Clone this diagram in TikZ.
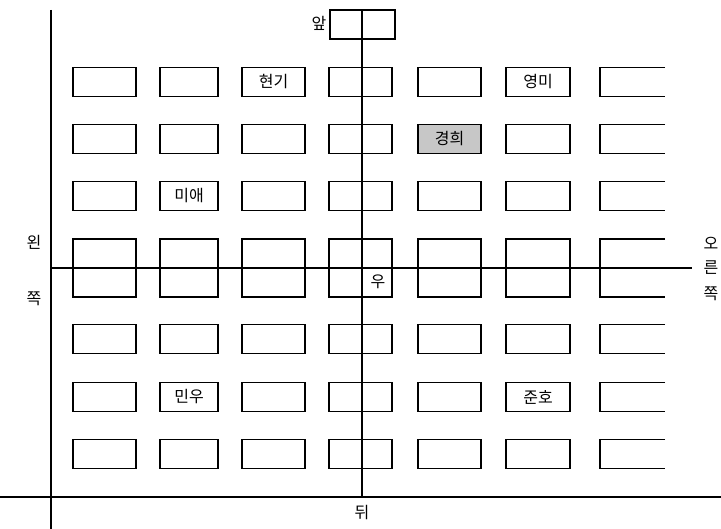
\documentclass[tikz,border=0pt]{standalone}
\usepackage{fontspec}
\newfontfamily\kr{Noto Sans CJK KR}
\begin{document}
\begin{tikzpicture}[x=1pt,y=-1pt,
  seat/.style={draw,line width=1.1pt,minimum width=63pt,minimum height=29pt,inner sep=0pt,font=\kr\fontsize{16}{16}\selectfont},
  tallseat/.style={seat,minimum height=58pt},
  lab/.style={font=\kr\fontsize{16}{16}\selectfont,inner sep=0pt},
  axis/.style={line width=2.8pt},
  midline/.style={line width=1.3pt}]
\useasboundingbox (0,0) rectangle (721,529);
\foreach \r/\y in {1/82,2/139,3/196,6/339,7/397,8/454}{
  \node[seat] (a\r) at (104.5,\y) {};
  \node[seat,minimum width=58pt] (b\r) at (189,\y) {};
  \node[seat] (c\r) at (273.5,\y) {};
  \node[seat] (d\r) at (360.5,\y) {};
  \node[seat] (e\r) at (449.5,\y) {};
  \node[seat,minimum width=64pt] (f\r) at (538,\y) {};
  \draw[line width=1.1pt] (665,\y-14.5) -- (600,\y-14.5) -- (600,\y+14.5) -- (665,\y+14.5);
}
\foreach \x/\n in {104.5/a,273.5/c,360.5/d,449.5/e}{
  \node[tallseat] (\n4) at (\x,268) {};
}
\node[tallseat,minimum width=58pt] (b4) at (189,268) {};
\node[tallseat,minimum width=64pt] (f4) at (538,268) {};
\draw[line width=1.1pt] (665,239) -- (600,239) -- (600,297) -- (665,297);
% names
\node[seat] at (c1) {현기};
\node[seat,minimum width=64pt] at (f1) {영미};
\node[seat,fill=black!22] at (e2) {경희};
\node[seat,minimum width=58pt] at (b3) {미애};
\node[seat,minimum width=58pt] at (b7) {민우};
\node[seat,minimum width=64pt] at (f7) {준호};
% front box
\node[seat,minimum width=65pt] (front) at (362.5,24.5) {};
% axes
\coordinate (ltop) at (51,10);
\coordinate (lbot) at (51,529);
\coordinate (bl) at (0,497);
\coordinate (br) at (721,497);
\coordinate (vtop) at (362,10);
\coordinate (vbot) at (362,497);
\coordinate (hl) at (51,268);
\coordinate (hr) at (692,268);
\draw[axis] (ltop) -- (lbot);
\draw[axis] (bl) -- (br);
\draw[midline] (vtop) -- (vbot);
\draw[midline] (hl) -- (hr);
% labels
\node[lab] (front label) at (319,23) {앞};
\node[lab] (back) at (362,513) {뒤};
\node[lab] (l1) at (34,242) {왼};
\node[lab] (l2) at (34,299) {쪽};
\node[lab] (r1) at (711,243) {오};
\node[lab] (r2) at (711,268) {른};
\node[lab] (r3) at (711,294) {쪽};
\node[lab] (u) at (378,282) {우};
\end{tikzpicture}
\end{document}
